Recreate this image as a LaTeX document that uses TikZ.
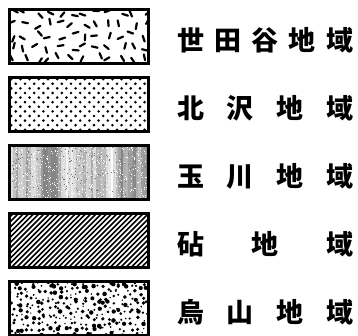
\documentclass[tikz,border=0pt]{standalone}
\usepackage{fontspec}
\usetikzlibrary{backgrounds}
\newfontfamily\cjk{Noto Sans CJK JP}
\begin{document}
\begin{tikzpicture}[
  x=1pt, y=-1pt,
  legbox/.style={rectangle, draw, line width=2.6pt, minimum width=139pt,
    minimum height=54pt, inner sep=0pt},
  lab/.style={anchor=west, inner sep=0pt,
    font=\cjk\bfseries\fontsize{27}{27}\selectfont},
  speck/.style={line width=2.2pt, line cap=round}
]
\useasboundingbox (0,0) rectangle (358,336);
\node[legbox] (b1) at (79,36.5) {};
\node[legbox] (b2) at (79,104.5) {};
\node[legbox] (b3) at (79,172.5) {};
\node[legbox] (b4) at (79,240.5) {};
\node[legbox] (b5) at (79,308.5) {};
\node[lab] (t1) at (177,40) {\hbox to 176pt{世\hfill 田\hfill 谷\hfill 地\hfill 域}};
\node[lab] (t2) at (177,108) {\hbox to 176pt{北\hfill 沢\hfill 地\hfill 域}};
\node[lab] (t3) at (177,176) {\hbox to 176pt{玉\hfill 川\hfill 地\hfill 域}};
\node[lab] (t4) at (177,244) {\hbox to 176pt{砧\hfill 地\hfill 域}};
\node[lab] (t5) at (177,312) {\hbox to 176pt{烏\hfill 山\hfill 地\hfill 域}};
\begin{scope}[on background layer]
% Setagaya: scattered short dashes
\begin{scope}
  \clip (b1.north west) rectangle (b1.south east);
  \begin{scope}[shift={(b1.north west)}]
  \pgfmathsetseed{7}
  \foreach \i in {0,...,11}{\foreach \j in {0,...,4}{
    \pgfmathsetmacro\px{\i*12.2+rnd*8}
    \pgfmathsetmacro\py{\j*11+rnd*7+2}
    \pgfmathsetmacro\pa{rnd*180}
    \draw[speck] (\px,\py) ++(\pa:3) -- ++(\pa:-6);
  }}
  \end{scope}
\end{scope}
% Kitazawa: staggered dots
\begin{scope}
  \clip (b2.north west) rectangle (b2.south east);
  \begin{scope}[shift={(b2.north west)}]
  \foreach \j in {0,...,11}{\foreach \i in {0,...,15}{
    \fill ({\i*9.2+mod(\j,2)*4.6+3},{\j*4.6+3}) circle[radius=1.45];
  }}
  \end{scope}
\end{scope}
% Tamagawa: grey vertical streaks
\begin{scope}
  \clip (b3.north west) rectangle (b3.south east);
  \begin{scope}[shift={(b3.north west)}]
  \pgfmathsetseed{21}
  \xdef\shade{20}
  \foreach \i in {0,...,56}{
    \pgfmathsetmacro\s{max(0,min(48,\shade+rnd*36-18))}
    \xdef\shade{\s}
    \fill[black!\s] (\i*2.5,-1) rectangle (\i*2.5+2.6,56);
  }
  \foreach \k in {1,...,220}{\fill[black!55] (rnd*140,rnd*55) rectangle ++(0.9,0.9);}
  \foreach \k in {1,...,500}{\fill[white] (rnd*140,rnd*55) rectangle ++(1,1);}
  \end{scope}
\end{scope}
% Kinuta: diagonal hatching
\begin{scope}
  \clip (b4.north west) rectangle (b4.south east);
  \begin{scope}[shift={(b4.north west)}]
  \foreach \k in {-62,-56.8,...,145}{\draw[line width=1.6pt] (\k,58) -- (\k+62,-4);}
  \end{scope}
\end{scope}
% Karasuyama: random dots
\begin{scope}
  \clip (b5.north west) rectangle (b5.south east);
  \begin{scope}[shift={(b5.north west)}]
  \pgfmathsetseed{5}
  \foreach \i in {0,...,25}{\foreach \j in {0,...,10}{
    \fill ({\i*5.5+rnd*4.5},{\j*5.2+rnd*4.5}) circle[radius={0.7+rnd*1.6}];
  }}
  \end{scope}
\end{scope}
\end{scope}
\end{tikzpicture}
\end{document}
